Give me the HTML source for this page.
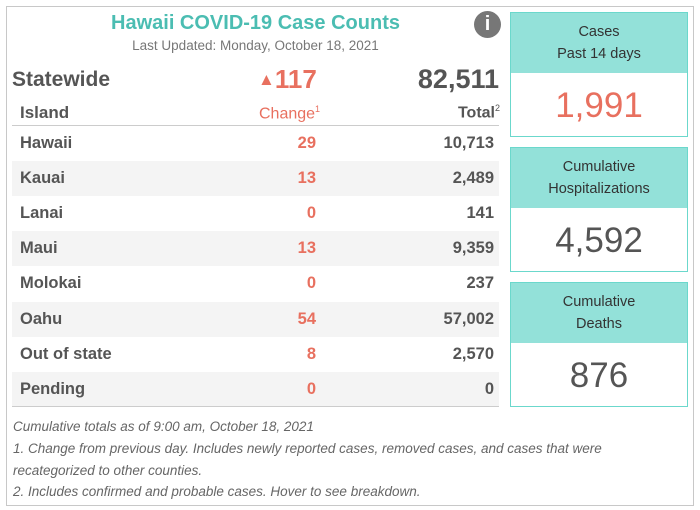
<!DOCTYPE html>
<html><head><meta charset="utf-8"><style>
*{margin:0;padding:0;box-sizing:border-box}
body{width:700px;height:510px;background:#fff;font-family:"Liberation Sans",sans-serif;position:relative;overflow:hidden;color:#555}
.a{position:absolute;white-space:nowrap}
.frame{left:6px;top:6px;width:688px;height:500px;border:1px solid #c8c8c8}
.row{position:absolute;left:12px;width:487px;height:35px}
.row.sh{background:#f4f4f4}
.nm{position:absolute;left:8px;top:8px;font-weight:bold;font-size:16.5px;color:#555}
.ch{position:absolute;right:183px;top:8px;font-weight:bold;font-size:16.5px;color:#e8705f}
.tt{position:absolute;right:5px;top:8px;font-weight:bold;font-size:16.5px;color:#555}
.box{position:absolute;left:510px;width:178px;height:125px;border:1px solid #6bd8cc;background:#fff}
.bh{height:60px;background:#93e1d9;text-align:center;font-size:14.5px;color:#333;line-height:22px;padding-top:8px}
.bv{text-align:center;font-size:35px;line-height:66px;color:#555}
.fn{position:absolute;left:13px;font-style:italic;font-size:13.5px;color:#666}
</style></head><body>
<div class="a frame"></div>
<div class="a" style="left:12px;width:487px;top:12px;text-align:center;font-size:20px;font-weight:bold;color:#4bbdb2">Hawaii COVID-19 Case Counts</div>
<div class="a" style="left:12px;width:487px;top:38px;text-align:center;font-size:13.5px;color:#777">Last Updated: Monday, October 18, 2021</div>
<div class="a" style="left:474px;top:11px;width:27px;height:27px;border-radius:50%;background:#777;color:#fff;text-align:center;font-weight:bold;font-size:20px;line-height:27px">i</div>
<div class="a" style="left:12px;top:68px;font-size:21px;font-weight:bold;color:#555">Statewide</div>
<div class="a" style="left:258px;top:64px;font-size:26px;font-weight:bold;color:#e8705f"><span style="font-size:17px;vertical-align:3px">▲</span>117</div>
<div class="a" style="right:201px;top:64px;font-size:27px;font-weight:bold;color:#555">82,511</div>
<div class="a" style="left:20px;top:103px;font-size:17px;font-weight:bold;color:#555">Island</div>
<div class="a" style="left:259px;top:104px;font-size:16px;color:#e8705f">Change<sup style="font-size:9px">1</sup></div>
<div class="a" style="right:200px;top:103px;font-size:16px;font-weight:bold;color:#555">Total<sup style="font-size:9px;font-weight:normal">2</sup></div>
<div class="a" style="left:12px;top:125px;width:487px;height:1px;background:#ccc"></div>
<div id="rows"></div>
<div class="a" style="left:12px;top:406px;width:487px;height:1px;background:#ccc"></div>
<div class="fn" style="top:419px">Cumulative totals as of 9:00 am, October 18, 2021</div>
<div class="fn" style="top:441px">1. Change from previous day. Includes newly reported cases, removed cases, and cases that were</div>
<div class="fn" style="top:463px">recategorized to other counties.</div>
<div class="fn" style="top:484px">2. Includes confirmed and probable cases. Hover to see breakdown.</div>
<div class="box" style="top:12px"><div class="bh">Cases<br>Past 14 days</div><div class="bv" style="color:#e8705f">1,991</div></div>
<div class="box" style="top:147px"><div class="bh">Cumulative<br>Hospitalizations</div><div class="bv">4,592</div></div>
<div class="box" style="top:282px"><div class="bh">Cumulative<br>Deaths</div><div class="bv">876</div></div>
<script>
const islands=["Hawaii","Kauai","Lanai","Maui","Molokai","Oahu","Out of state","Pending"];
const changes=[29,13,0,13,0,54,8,0];
const totals=[10713,2489,141,9359,237,57002,2570,0];
const c=document.getElementById('rows');
islands.forEach((n,i)=>{
  const r=document.createElement('div');
  r.className='row'+(i%2?' sh':'');
  r.style.top=(126+i*35.1)+'px';
  
  
  r.innerHTML='<span class="nm">'+n+'</span><span class="ch">'+changes[i]+'</span><span class="tt">'+totals[i].toLocaleString('en-US')+'</span>';
  c.appendChild(r);
});
</script>
</body></html>
